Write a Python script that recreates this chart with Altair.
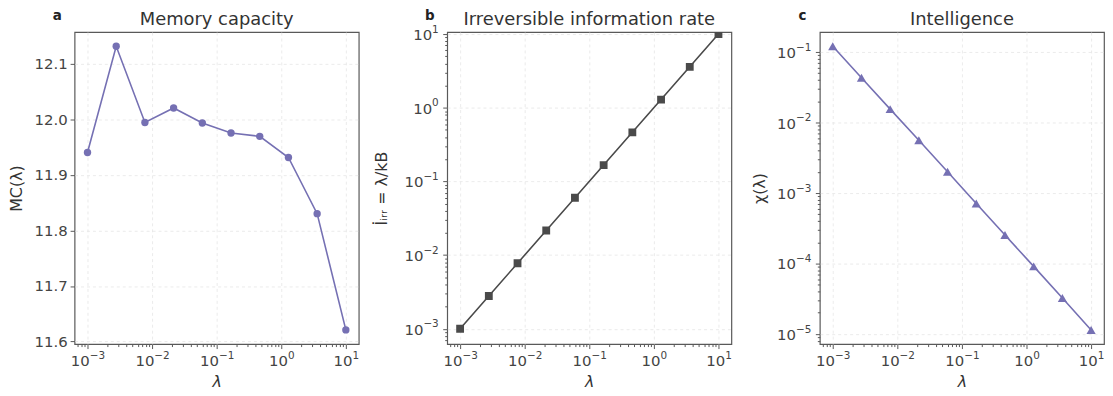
import altair as alt
import pandas as pd

# ---------------- data ----------------
lam = [0.001, 0.002783, 0.007743, 0.02154, 0.05995, 0.1668, 0.4642, 1.292, 3.594, 10.0]
mc = [11.940, 12.131, 11.994, 12.020, 11.993, 11.975, 11.969, 11.931, 11.830, 11.621]
irr = [0.001, 0.002783, 0.007743, 0.02154, 0.05995, 0.1668, 0.4642, 1.292, 3.594, 10.0]
chi = [0.121, 0.0431, 0.0155, 0.0056, 0.0020, 7.1e-4, 2.53e-4, 9.1e-5, 3.24e-5, 1.14e-5]

titles = ["Memory capacity", "Irreversible information rate", "Intelligence"]
letters = ["a", "b", "c"]
ylabels = ["MC(λ)", "İᵢᵣᵣ = λ/kB", "χ(λ)"]
xlabel = "λ"

y_ticks_a = [11.6, 11.7, 11.8, 11.9, 12.0, 12.1]
exponents = ["−6", "−5", "−4", "−3", "−2", "−1", "0", "1", "2"]  # for 10^-6 ... 10^2

x_domain = [10 ** -3.2, 10 ** 1.2]
y_domain_a = [11.5955, 12.1565]
y_domain_b = [10 ** -3.208, 10 ** 1.027]
y_domain_c = [10 ** -5.144, 10 ** -0.716]

PURPLE = "#7570b3"
GRAY = "#4a4a4a"
FRAME = "#595959"
W, H = 286, 314
FONT = "DejaVu Sans"
LBL = 15        # main tick label size
EXPSZ = 10.5    # exponent size

LOG10 = "round(log(datum.value)/LN10)"
IS_MAJOR = f"abs(log(datum.value)/LN10 - {LOG10}) < 0.001"
EXP_ARR = "[" + ",".join(f"'{e}'" for e in exponents) + "]"
TEN_LABEL = f"({IS_MAJOR}) ? '10' : ''"
EXP_LABEL = f"({IS_MAJOR}) ? {EXP_ARR}[{LOG10}+6] : ''"
NEG = "datum.value < 0.5"

TEN_W = 2 * 0.636 * LBL
NEG_W = (0.838 + 0.636) * EXPSZ
POS_W = 0.636 * EXPSZ

TICK = {"condition": {"test": IS_MAJOR, "value": 4.5}, "value": 2.5}
GRIDOP = {"condition": {"test": IS_MAJOR, "value": 1}, "value": 0}


def log_values(domain):
    vals = []
    for e in range(-7, 3):
        for m in range(1, 10):
            v = m * 10.0 ** e
            if domain[0] <= v <= domain[1]:
                vals.append(v)
    return vals


COMMON = dict(labelOverlap=False, labelFlush=False, labelBound=False)
XOFF = {"condition": {"test": NEG, "value": (TEN_W - NEG_W) / 2}, "value": (TEN_W - POS_W) / 2}


def x_axis_main(domain):
    return alt.Axis(orient="bottom", values=log_values(domain), labelExpr=TEN_LABEL,
                    labelAlign="right", labelBaseline="alphabetic", labelPadding=17.2,
                    labelOffset=XOFF, tickSize=TICK, gridOpacity=GRIDOP,
                    title=xlabel, titleFontStyle="italic", titleX=W / 2, titleY=43,
                    titleBaseline="alphabetic", titleAlign="center", **COMMON)


def x_axis_exp(domain):
    return alt.Axis(orient="bottom", values=log_values(domain), labelExpr=EXP_LABEL,
                    labelAlign="left", labelBaseline="alphabetic", labelPadding=10.2,
                    labelFontSize=EXPSZ, labelOffset=XOFF,
                    tickSize=TICK, tickOpacity=0, grid=False, title=None, **COMMON)


def y_title_kw(tx):
    return dict(titleX=tx, titleY=H / 2, titleAngle=270, titleBaseline="middle",
                titleAlign="center")


def y_axis_main(domain, title, tx):
    pad = {"condition": {"test": NEG, "value": 4.5 + NEG_W}, "value": 4.5 + POS_W}
    return alt.Axis(orient="left", values=log_values(domain), labelExpr=TEN_LABEL,
                    labelAlign="right", labelBaseline="alphabetic", labelOffset=5.5,
                    labelPadding=pad, tickSize=TICK, gridOpacity=GRIDOP,
                    title=title, **y_title_kw(tx), **COMMON)


def y_axis_exp(domain):
    return alt.Axis(orient="left", values=log_values(domain), labelExpr=EXP_LABEL,
                    labelAlign="right", labelBaseline="alphabetic", labelOffset=-1.8,
                    labelFontSize=EXPSZ, labelPadding=4.5, tickSize=TICK, tickOpacity=0,
                    grid=False, title=None, **COMMON)


def xs(axis):
    return alt.X("lam:Q", scale=alt.Scale(type="log", domain=x_domain, nice=False, zero=False),
                 axis=axis)


def panel(df, y_line, y_pts, shape, size, color, title, letter, clip=False):
    line = alt.Chart(df).mark_line(color=color, strokeWidth=1.6, clip=clip).encode(
        x=xs(x_axis_main(x_domain)), y=y_line)
    pts = alt.Chart(df).mark_point(shape=shape, size=size, filled=True, opacity=1,
                                   color=color, clip=clip).encode(
        x=xs(x_axis_exp(x_domain)), y=y_pts)
    t = alt.Chart(pd.DataFrame({"t": [title]})).mark_text(
        font=FONT, fontSize=18, color="#333333", align="center", baseline="alphabetic"
    ).encode(text="t:N", x=alt.value(W / 2), y=alt.value(-7))
    l = alt.Chart(pd.DataFrame({"t": [letter]})).mark_text(
        font=FONT, fontSize=13.5, fontWeight="bold", color="#222222", align="center",
        baseline="alphabetic"
    ).encode(text="t:N", x=alt.value(-17.5), y=alt.value(-12))
    return (alt.layer(line, pts, t, l)
            .resolve_axis(x="independent", y="independent")
            .properties(width=W, height=H))


df_a = pd.DataFrame({"lam": lam, "v": mc})
df_b = pd.DataFrame({"lam": lam, "v": irr})
df_c = pd.DataFrame({"lam": lam, "v": chi})

sa = alt.Scale(domain=y_domain_a, nice=False, zero=False)
sb = alt.Scale(type="log", domain=y_domain_b, nice=False)
sc = alt.Scale(type="log", domain=y_domain_c, nice=False)

ya = alt.Y("v:Q", scale=sa,
           axis=alt.Axis(values=y_ticks_a, format=".1f", title=ylabels[0], tickSize=4.5,
                         labelPadding=3, **y_title_kw(-58)))
ya2 = alt.Y("v:Q", scale=sa, axis=None)
yb = alt.Y("v:Q", scale=sb, axis=y_axis_main(y_domain_b, ylabels[1], -66))
yb2 = alt.Y("v:Q", scale=sb, axis=y_axis_exp(y_domain_b))
yc = alt.Y("v:Q", scale=sc, axis=y_axis_main(y_domain_c, ylabels[2], -61))
yc2 = alt.Y("v:Q", scale=sc, axis=y_axis_exp(y_domain_c))

pa = panel(df_a, ya, ya2, "circle", 55, PURPLE, titles[0], letters[0])
pb = panel(df_b, yb, yb2, "square", 62, GRAY, titles[1], letters[1], clip=True)
pc = panel(df_c, yc, yc2, "triangle-up", 85, PURPLE, titles[2], letters[2])

chart = (
    alt.hconcat(pa, pb, pc, spacing=89, bounds="flush")
    .properties(padding={"left": 0, "top": -1, "right": 0, "bottom": 0})
    .configure_view(stroke=FRAME, strokeWidth=1.2)
    .configure_axis(
        labelFont=FONT, labelFontSize=LBL, labelColor="#444444",
        titleFont=FONT, titleFontSize=16, titleColor="#333333", titleFontWeight="normal",
        domain=False, tickColor=FRAME, tickWidth=1,
        gridColor="#e6e6e6", gridDash=[3, 3], gridWidth=0.8,
    )
)

chart.save("out.html", embed_options={"renderer": "svg", "actions": False})
